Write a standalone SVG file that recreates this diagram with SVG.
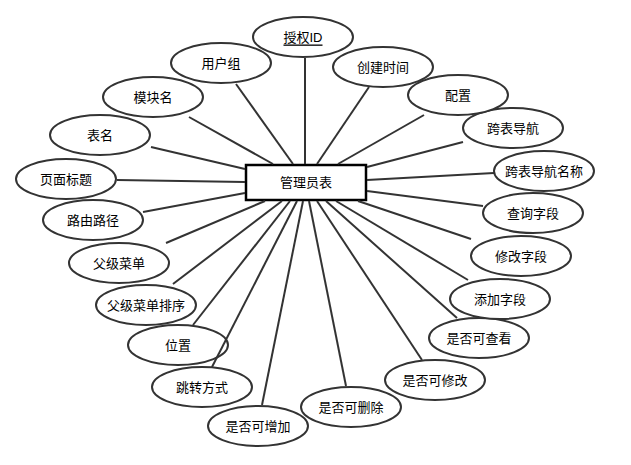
<svg xmlns="http://www.w3.org/2000/svg" width="631" height="465" viewBox="0 0 631 465">
<style>
.bg{fill:#ffffff}
.attr ellipse{fill:#ffffff;stroke:#333333;stroke-width:2}
.ent rect{fill:#ffffff;stroke:#000000;stroke-width:2.5}
text{font-family:"Liberation Sans","Noto Sans CJK SC",sans-serif;font-size:13px;fill:#000000;text-anchor:middle;dominant-baseline:central}
#connectors line{stroke:#333333;stroke-width:2}
</style>
<rect class="bg" x="0" y="0" width="631" height="465"/>
<g id="admin" class="ent"><rect x="246" y="165" width="120" height="35"/><text x="306" y="182">管理员表</text></g>
<g id="auth_id" class="attr"><ellipse cx="303" cy="37" rx="50" ry="20"/><text x="303" y="37" text-decoration="underline">授权ID</text></g>
<g id="user_group" class="attr"><ellipse cx="221" cy="63" rx="50" ry="20"/><text x="221" y="63">用户组</text></g>
<g id="module_name" class="attr"><ellipse cx="153" cy="97" rx="50" ry="20"/><text x="153" y="97">模块名</text></g>
<g id="table_name" class="attr"><ellipse cx="100" cy="135" rx="50" ry="20"/><text x="100" y="135">表名</text></g>
<g id="page_title" class="attr"><ellipse cx="66" cy="179" rx="50" ry="20"/><text x="66" y="179">页面标题</text></g>
<g id="route_path" class="attr"><ellipse cx="93" cy="220" rx="50" ry="20"/><text x="93" y="220">路由路径</text></g>
<g id="parent_menu" class="attr"><ellipse cx="119" cy="263" rx="50" ry="20"/><text x="119" y="263">父级菜单</text></g>
<g id="parent_menu_sort" class="attr"><ellipse cx="146" cy="305" rx="50" ry="20"/><text x="146" y="305">父级菜单排序</text></g>
<g id="position" class="attr"><ellipse cx="178" cy="345" rx="50" ry="20"/><text x="178" y="345">位置</text></g>
<g id="jump_mode" class="attr"><ellipse cx="202" cy="387" rx="50" ry="20"/><text x="202" y="387">跳转方式</text></g>
<g id="can_add" class="attr"><ellipse cx="258" cy="426" rx="50" ry="20"/><text x="258" y="426">是否可增加</text></g>
<g id="can_delete" class="attr"><ellipse cx="351" cy="407" rx="50" ry="20"/><text x="351" y="407">是否可删除</text></g>
<g id="can_edit" class="attr"><ellipse cx="435" cy="380" rx="50" ry="20"/><text x="435" y="380">是否可修改</text></g>
<g id="can_view" class="attr"><ellipse cx="479" cy="338" rx="50" ry="20"/><text x="479" y="338">是否可查看</text></g>
<g id="add_fields" class="attr"><ellipse cx="500" cy="299" rx="50" ry="20"/><text x="500" y="299">添加字段</text></g>
<g id="edit_fields" class="attr"><ellipse cx="521" cy="256" rx="50" ry="20"/><text x="521" y="256">修改字段</text></g>
<g id="query_fields" class="attr"><ellipse cx="533" cy="213" rx="50" ry="20"/><text x="533" y="213">查询字段</text></g>
<g id="cross_nav_name" class="attr"><ellipse cx="544" cy="171" rx="50" ry="20"/><text x="544" y="171">跨表导航名称</text></g>
<g id="cross_nav" class="attr"><ellipse cx="513" cy="128" rx="50" ry="20"/><text x="513" y="128">跨表导航</text></g>
<g id="config" class="attr"><ellipse cx="458" cy="95" rx="50" ry="20"/><text x="458" y="95">配置</text></g>
<g id="create_time" class="attr"><ellipse cx="383" cy="67" rx="50" ry="20"/><text x="383" y="67">创建时间</text></g>
<g id="connectors">
<line x1="305" y1="58" x2="305" y2="164"/>
<line x1="236" y1="84" x2="293" y2="164"/>
<line x1="189" y1="117" x2="273" y2="164"/>
<line x1="151" y1="147" x2="245" y2="169"/>
<line x1="117" y1="180" x2="245" y2="182"/>
<line x1="143" y1="212" x2="245" y2="193"/>
<line x1="369" y1="87" x2="317" y2="164"/>
<line x1="424" y1="115" x2="338" y2="164"/>
<line x1="463" y1="142" x2="367" y2="167"/>
<line x1="494" y1="173" x2="367" y2="180"/>
<line x1="483" y1="206" x2="367" y2="191"/>
<line x1="471" y1="239" x2="358" y2="201"/>
<line x1="468" y1="280" x2="336" y2="201"/>
<line x1="457" y1="318" x2="326" y2="201"/>
<line x1="422" y1="360" x2="317" y2="201"/>
<line x1="346" y1="386" x2="309" y2="201"/>
<line x1="262" y1="405" x2="303" y2="201"/>
<line x1="212" y1="367" x2="297" y2="201"/>
<line x1="193" y1="325" x2="290" y2="201"/>
<line x1="173" y1="284" x2="282" y2="201"/>
<line x1="166" y1="243" x2="265" y2="201"/>
</g>
</svg>
